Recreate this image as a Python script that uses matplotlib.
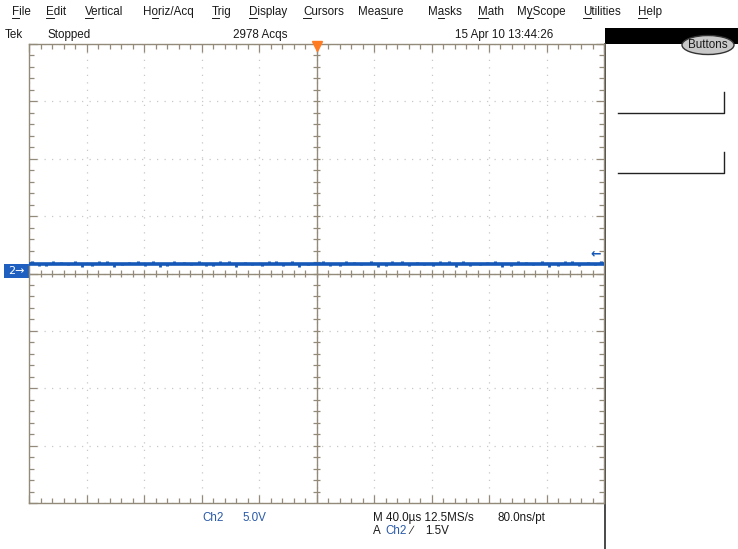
"""Tek scope screenshot: Ch2 flat trace, 5.0 V/div, 40 us/div, stopped."""
import matplotlib
matplotlib.use("Agg")
import matplotlib.pyplot as plt
from matplotlib.patches import Rectangle, Ellipse
from matplotlib.font_manager import FontProperties

# --- screen content ---------------------------------------------------------

MENU_ITEMS = ["File", "Edit", "Vertical", "Horiz/Acq", "Trig", "Display",
              "Cursors", "Measure", "Masks", "Math", "MyScope", "Utilities",
              "Help"]
MENU_HOTKEY = [0, 0, 0, 1, 0, 0, 0, 3, 1, 0, 1, 0, 0]   # underlined char index
MENU_X = [12, 46, 85, 143, 212, 249, 303, 358, 428, 478, 517, 583, 638]

STATUS_TEXT = ["Tek", "Stopped", "2978 Acqs", "15 Apr 10 13:44:26"]
STATUS_X = [5, 48, 233, 455]

N_HDIV = 10
N_VDIV = 8
CH2_LEVEL_DIV = 0.17         # trace sits a bit above the ground marker
TRIG_POS_DIV = 5.0           # horizontal trigger position (centre)
TRIG_LEVEL_DIV = 0.35        # "<-" trigger level marker on the right

# noise glitches on the trace: (x in div, excursion in div)
GLITCH_X = [0.05, 0.30, 0.55, 0.80, 1.10, 1.35, 1.62, 1.90, 2.15, 2.40,
            2.70, 2.95, 3.20, 3.48, 3.75, 4.05, 4.30, 4.58, 4.85, 5.12,
            5.40, 5.66, 5.95, 6.20, 6.48, 6.75, 7.02, 7.30, 7.55, 7.85,
            8.10, 8.38, 8.65, 8.92, 9.20, 9.45, 9.72, 9.95]
GLITCH_DY = [0.04, -0.04, 0.03, 0.05, -0.04, 0.05, -0.03, 0.04, 0.05, -0.04,
             0.03, 0.04, -0.04, 0.05, 0.03, -0.04, 0.04, 0.05, -0.03, 0.04,
             -0.04, 0.03, 0.05, -0.04, 0.04, 0.03, -0.04, 0.05, 0.04, -0.03,
             0.05, -0.04, 0.03, 0.05, -0.04, 0.04, 0.03, 0.05]

SCALE_TEXT = ["Ch2", "5.0V"]
TIMEBASE_TEXT = ["M 40.0\u00b5s 12.5MS/s", "80.0ns/pt"]
TRIGGER_TEXT = ["A", "Ch2", "\u2215", "1.5V"]

# --- styling ----------------------------------------------------------------

W, H = 738, 549
GRAT_L, GRAT_R, GRAT_T, GRAT_B = 29, 604, 44, 503
FRAME = "#948a7a"
DOTS = "#c8c8c8"
TRACE = "#1658b8"
LABEL_BLUE = "#2a5aa8"
TXT = "#1a1a1a"
FONT = "Liberation Sans"
FS = 8.4

fig = plt.figure(figsize=(W / 100, H / 100), dpi=100)
fig.patch.set_facecolor("white")

# pixel-space overlay for the chrome
bg = fig.add_axes([0, 0, 1, 1])
bg.set_xlim(0, W)
bg.set_ylim(H, 0)
bg.axis("off")

# graticule in division units
ax = fig.add_axes([GRAT_L / W, (H - GRAT_B) / H,
                   (GRAT_R - GRAT_L) / W, (GRAT_B - GRAT_T) / H])
ax.set_xlim(0, N_HDIV)
ax.set_ylim(-N_VDIV / 2, N_VDIV / 2)
ax.set_facecolor("white")
for sp in ax.spines.values():
    sp.set_color(FRAME)
    sp.set_linewidth(1.0)
ax.set_xticks(range(N_HDIV + 1))
ax.set_yticks(range(-N_VDIV // 2, N_VDIV // 2 + 1))
ax.set_xticks([i / 5 for i in range(N_HDIV * 5 + 1)], minor=True)
ax.set_yticks([-4 + i / 5 for i in range(N_VDIV * 5 + 1)], minor=True)
ax.tick_params(which="both", direction="in", top=True, right=True,
               labelbottom=False, labelleft=False, color=FRAME, width=0.9)
ax.tick_params(which="major", length=6)
ax.tick_params(which="minor", length=3.5)
ax.grid(True, which="major", color=DOTS, linestyle=(0, (1, 5)), linewidth=0.9)

# centre crosshair with its own small ticks
ax.axhline(0, color=FRAME, lw=1.0)
ax.axvline(N_HDIV / 2, color=FRAME, lw=1.0)
px_x = N_HDIV / (GRAT_R - GRAT_L)
px_y = N_VDIV / (GRAT_B - GRAT_T)
minor_x = [i / 5 for i in range(1, N_HDIV * 5)]
minor_y = [-4 + i / 5 for i in range(1, N_VDIV * 5)]
ax.vlines(minor_x, -3.5 * px_y, 3.5 * px_y, color=FRAME, lw=0.9)
ax.hlines(minor_y, N_HDIV / 2 - 3.5 * px_x, N_HDIV / 2 + 3.5 * px_x,
          color=FRAME, lw=0.9)

# Ch2 trace: a thick band with short notches
ax.hlines(CH2_LEVEL_DIV, 0, N_HDIV, color=TRACE, lw=2.6, zorder=5)
ax.vlines(GLITCH_X, CH2_LEVEL_DIV, [CH2_LEVEL_DIV + d for d in GLITCH_DY],
          color=TRACE, lw=2.2, zorder=5)
ax.vlines([g + 0.12 for g in GLITCH_X], CH2_LEVEL_DIV,
          [CH2_LEVEL_DIV - d for d in GLITCH_DY],
          color=TRACE, lw=2.0, zorder=5)

# trigger position (orange, top) and level (blue arrow, right)
ax.plot([TRIG_POS_DIV], [N_VDIV / 2 - 2 * px_y], marker="v", ms=7,
        color="#ff7b22", mec="#ff7b22", clip_on=False, zorder=6)
ax.text(N_HDIV - 0.05, TRIG_LEVEL_DIV, "\u2190", color=TRACE, ha="right",
        va="center", fontsize=9, fontweight="bold", family="DejaVu Sans")

# channel ground marker on the left
bg.add_patch(Rectangle((4, 264), 25, 14, color="#1f5fc0", lw=0))
bg.text(16, 271.5, "2\u2192", color="white", ha="center", va="center",
        fontsize=8, family="DejaVu Sans")

# --- menu and status lines --------------------------------------------------

prop = FontProperties(family=FONT, size=FS)
renderer = fig.canvas.get_renderer()
for label, hk, x in zip(MENU_ITEMS, MENU_HOTKEY, MENU_X):
    bg.text(x, 12, label, fontproperties=prop, color=TXT, va="center")
    pre = renderer.get_text_width_height_descent(label[:hk], prop, False)[0] if hk else 0
    ch = renderer.get_text_width_height_descent(label[hk], prop, False)[0]
    bg.plot([x + pre, x + pre + ch], [18, 18], color=TXT, lw=0.7)

for label, x in zip(STATUS_TEXT, STATUS_X):
    bg.text(x, 35, label, fontproperties=prop, color=TXT, va="center")

# right-hand button panel
bg.add_patch(Rectangle((605, 28), W - 605, 16, color="black", lw=0))
bg.add_patch(Ellipse((708, 45), 52, 19, facecolor="#c8c8c8",
                     edgecolor="#333333", lw=1.0))
bg.text(708, 45, "Buttons", fontproperties=prop, color=TXT, ha="center",
        va="center")
bg.plot([605, 605], [44, H], color="#3a3a3a", lw=1.3)
for ytop, ybot in [(92, 113), (152, 173)]:
    bg.plot([618, 724, 724], [ybot, ybot, ytop], color="#222222", lw=1.0)

# --- readouts under the graticule ------------------------------------------

bg.text(202, 518, SCALE_TEXT[0], fontproperties=prop, color=LABEL_BLUE,
        va="center")
bg.text(242, 518, SCALE_TEXT[1], fontproperties=prop, color=LABEL_BLUE,
        va="center")
bg.text(373, 518, TIMEBASE_TEXT[0], fontproperties=prop, color=TXT,
        va="center")
bg.text(497, 518, TIMEBASE_TEXT[1], fontproperties=prop, color=TXT,
        va="center")
trig_x = [373, 385, 410, 425]
trig_c = [TXT, LABEL_BLUE, TXT, TXT]
for label, x, c in zip(TRIGGER_TEXT, trig_x, trig_c):
    bg.text(x, 531, label, fontproperties=prop, color=c, va="center",
            family=[FONT, "DejaVu Sans"])

fig.savefig("out.png", dpi=100, facecolor="white")
